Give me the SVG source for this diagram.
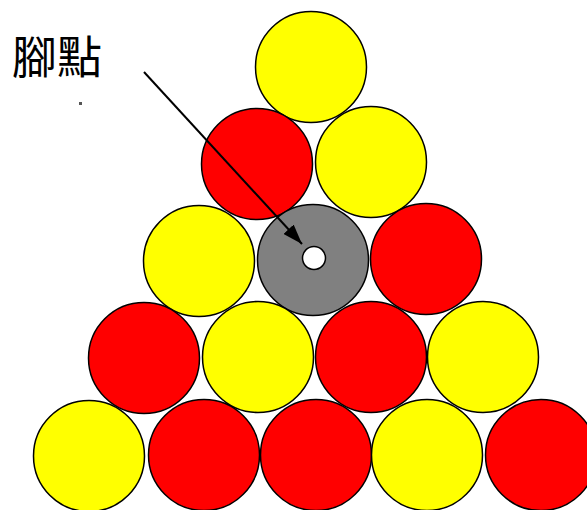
<svg xmlns="http://www.w3.org/2000/svg" width="587" height="510" viewBox="0 0 587 510">
<style>
.b{stroke:#000;stroke-width:1.5}
.y{fill:#ffff00}
.r{fill:#ff0000}
.g{fill:#808080}
.lbl{font-family:"Noto Sans CJK TC","Noto Sans CJK SC",sans-serif;font-size:45px;fill:#000}
</style>
<defs>
<marker id="ah" viewBox="0 0 10 10" refX="10" refY="5" markerWidth="10" markerHeight="10" markerUnits="userSpaceOnUse" orient="auto">
<path d="M0,0 L10,5 L0,10 z" fill="#000"/>
</marker>
<marker id="arrow" viewBox="0 0 20 14" refX="20" refY="7" markerWidth="20" markerHeight="14" markerUnits="userSpaceOnUse" orient="auto">
<path d="M0,0 L20,7 L0,14 z" fill="#000"/>
</marker>
</defs>
<rect width="587" height="510" fill="#fff"/>
<g id="row1"><circle id="b1" class="b y" cx="311" cy="67" r="55.5"/></g>
<g id="row2">
<circle id="b2" class="b r" cx="257" cy="164" r="55.5"/>
<circle id="b3" class="b y" cx="371" cy="162" r="55.5"/>
</g>
<g id="row3">
<circle id="b4" class="b y" cx="199" cy="261" r="55.5"/>
<g id="b5"><circle class="b g" cx="313" cy="260" r="55.5"/><circle class="b" fill="#fff" cx="314" cy="258" r="11.5"/></g>
<circle id="b6" class="b r" cx="426" cy="259" r="55.5"/>
</g>
<g id="row4">
<circle id="b7" class="b r" cx="144" cy="358" r="55.5"/>
<circle id="b8" class="b y" cx="258" cy="357" r="55.5"/>
<circle id="b9" class="b r" cx="371" cy="357" r="55.5"/>
<circle id="b10" class="b y" cx="483" cy="357" r="55.5"/>
</g>
<g id="row5">
<circle id="b11" class="b y" cx="89" cy="456" r="55.5"/>
<circle id="b12" class="b r" cx="204" cy="455" r="55.5"/>
<circle id="b13" class="b r" cx="316" cy="455" r="55.5"/>
<circle id="b14" class="b y" cx="427" cy="455" r="55.5"/>
<circle id="b15" class="b r" cx="541" cy="455" r="55.5"/>
</g>
<g id="label">
<text class="lbl" x="12" y="74">腳點</text>
<rect x="79" y="102" width="3" height="3" fill="#555"/>
</g>
<g id="connectors">
<line x1="144" y1="72" x2="302" y2="244" stroke="#000" stroke-width="2" marker-end="url(#arrow)"/>
</g>
</svg>
